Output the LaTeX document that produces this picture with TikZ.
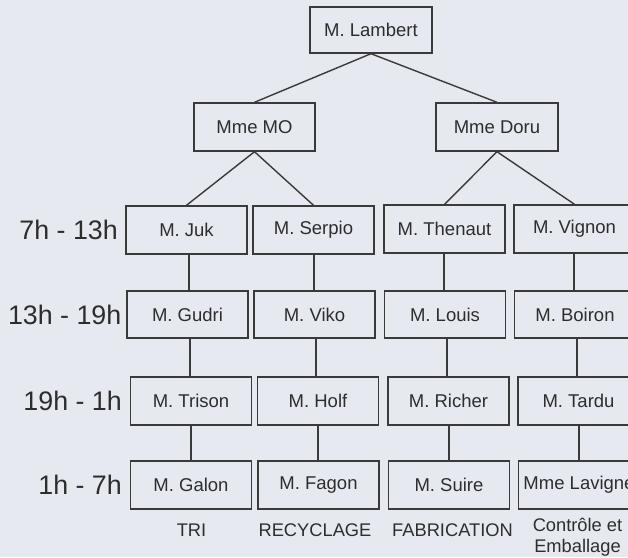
\documentclass[tikz,border=0pt]{standalone}
\usepackage{fontspec}
\setmainfont{Liberation Sans}
\usetikzlibrary{calc}
\definecolor{bgc}{RGB}{230,234,240}
\definecolor{linec}{RGB}{58,58,58}
\definecolor{textc}{RGB}{45,45,45}
\tikzset{
  box/.style={draw=linec, line width=1.4pt, fill=bgc, minimum width=121pt, minimum height=48pt,
    inner sep=0pt, text=textc, font=\fontsize{18.5}{20}\selectfont},
  timelbl/.style={anchor=east, inner sep=0pt, text=textc, font=\fontsize{26.8}{28}\selectfont},
  collbl/.style={inner sep=0pt, text=textc, align=center, font=\fontsize{18.3}{21}\selectfont},
  conn/.style={draw=linec, line width=1.4pt}
}
\begin{document}
\begin{tikzpicture}[x=1pt,y=-1pt]
\useasboundingbox (0,0) rectangle (628,557);
\fill[bgc] (0,0) rectangle (628,557);
% top
\node[box, minimum width=122pt, minimum height=46pt] (lambert) at (371,30) {M. Lambert};
\node[box] (mo) at (254.5,127) {Mme MO};
\node[box, minimum width=122pt] (doru) at (497,127) {Mme Doru};
% row 1
\node[box] (juk) at (186.5,230) {M. Juk};
\node[box] (serpio) at (313.5,230) {M. Serpio};
\node[box] (thenaut) at (444.5,229) {M. Thenaut};
\node[box] (vignon) at (574.5,229) {M. Vignon};
% row 2
\node[box, minimum height=47pt] (gudri) at (187.5,314.5) {M. Gudri};
\node[box, minimum height=47pt] (viko) at (314.5,314.5) {M. Viko};
\node[box, minimum height=47pt] (louis) at (445,314.5) {M. Louis};
\node[box, minimum height=47pt] (boiron) at (575,314.5) {M. Boiron};
% row 3
\node[box] (trison) at (191,401) {M. Trison};
\node[box] (holf) at (318,401) {M. Holf};
\node[box] (richer) at (448.5,401) {M. Richer};
\node[box] (tardu) at (578.5,401) {M. Tardu};
% row 4
\node[box] (galon) at (191,485) {M. Galon};
\node[box] (fagon) at (318.5,485) {M. Fagon};
\node[box] (suire) at (449,485) {M. Suire};
\node[box] (lavigne) at (579,485) {Mme Lavigne};
% connectors
\draw[conn] (lambert.south) -- (mo.north);
\draw[conn] (lambert.south) -- (doru.north);
\draw[conn] (mo.south) -- (juk.north);
\draw[conn] (mo.south) -- (serpio.north);
\draw[conn] (doru.south) -- (thenaut.north);
\draw[conn] (doru.south) -- (vignon.north);
\foreach \a/\b/\xx in {juk/gudri/189, gudri/trison/190, trison/galon/191,
                   serpio/viko/314, viko/holf/316, holf/fagon/318,
                   thenaut/louis/444, louis/richer/447, richer/suire/449,
                   vignon/boiron/574, boiron/tardu/577, tardu/lavigne/579}{
  \draw[conn] (\a.south -| \xx,0) -- (\b.north -| \xx,0);
}
% time labels
\node[timelbl] (t1) at (118,230) {7h - 13h};
\node[timelbl] (t2) at (121.5,314.5) {13h - 19h};
\node[timelbl] (t3) at (122,401) {19h - 1h};
\node[timelbl] (t4) at (122,485) {1h - 7h};
% column labels
\node[collbl] (c1) at (191.5,530) {TRI};
\node[collbl] (c2) at (315,530) {RECYCLAGE};
\node[collbl] (c3) at (452.5,530) {FABRICATION};
\node[collbl] (c4) at (577.5,537) {Contrôle et\\Emballage};
\end{tikzpicture}
\end{document}
